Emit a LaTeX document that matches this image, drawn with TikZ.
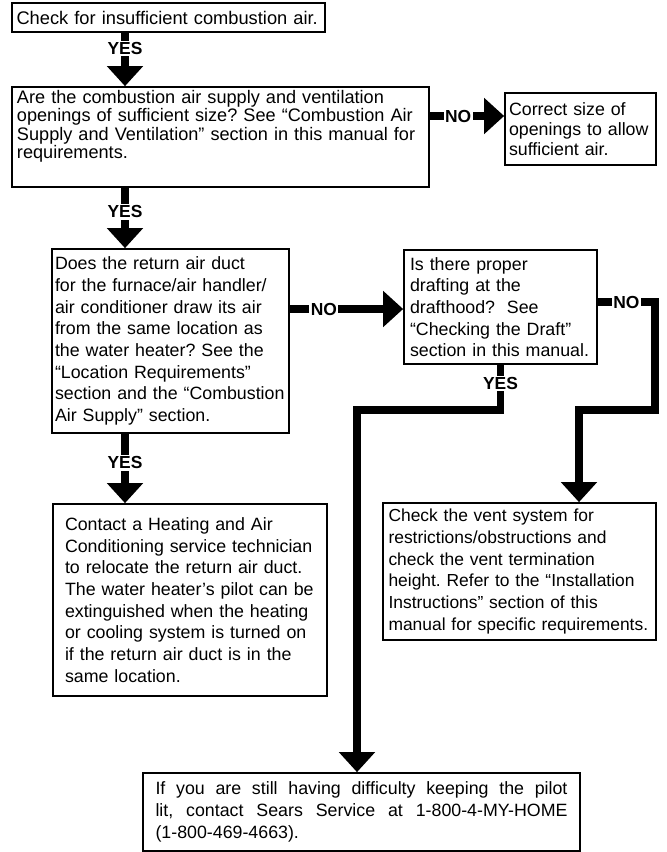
\documentclass[tikz,border=0pt]{standalone}
\usepackage{fontspec}
\setmainfont{Liberation Sans}
\usepackage{tikz}
\usetikzlibrary{arrows.meta,positioning}
\frenchspacing
\tikzset{
  qbox/.style={draw=black,line width=1.2pt,align=left,inner ysep=0pt,inner xsep=0.125cm,
               font=\fontsize{12.66pt}{15.4pt}\selectfont},
  flow/.style={-{Triangle[length=0.5cm,width=0.875cm]},line width=0.1875cm,line join=miter},
  lbl/.style={font=\fontsize{12.4pt}{14pt}\selectfont\bfseries,fill=white,inner sep=1pt},
}

\begin{document}
\begin{tikzpicture}
  \useasboundingbox (0,0) rectangle (16.65,-21.3);
  % columns and rows of the flow lines
  \coordinate (cL) at (3.125,0);
  \coordinate (cM) at (8.925,0);
  \coordinate (cR) at (14.475,0);
  \coordinate (cE) at (16.375,0);
  \coordinate (rA) at (0,-2.9);
  \coordinate (rB) at (0,-7.725);
  \coordinate (rC) at (0,-7.55);
  \coordinate (rD) at (0,-10.25);

  % boxes
  \node[qbox,text width=7.7cm,inner xsep=0.0625cm,minimum height=0.725cm,font=\fontsize{13pt}{15.4pt}\selectfont] (start) at (4.2125,-0.4375) {\hspace*{0.05cm}Check for insufficient combustion air.};
  \node[qbox,text width=10.175cm,minimum height=2.5cm,font=\fontsize{12.9pt}{13pt}\selectfont] (size) at (5.5125,-3.425)
    {Are the combustion air supply and ventilation\\ openings of sufficient size? See “Combustion Air\\ Supply and Ventilation” section in this manual for\\ requirements.\\[5pt]\mbox{}};
  \node[qbox,text width=3.575cm,inner xsep=0.1cm,minimum height=1.8cm,font=\fontsize{12.66pt}{14.2pt}\selectfont] (fix) at (14.5125,-3.225)
    {Correct size of\\ openings to allow\\ sufficient air.};
  \node[qbox,text width=5.775cm,inner xsep=0.075cm,minimum height=4.6cm] (duct) at (4.2625,-8.525)
    {Does the return air duct\\ for the furnace/air handler/\\ air conditioner draw its air\\ from the same location as\\ the water heater? See the\\ “Location Requirements”\\ section and the “Combustion\\ Air Supply” section.};
  \node[qbox,text width=6.25cm,inner xsep=0.3cm,minimum height=4.8cm] (hvac) at (4.75,-15)
    {Contact a Heating and Air\\ Conditioning service technician\\ to relocate the return air duct.\\ The water heater’s pilot can be\\ extinguished when the heating\\ or cooling system is turned on\\ if the return air duct is in the\\ same location.};
  \node[qbox,text width=4.525cm,inner xsep=0.15cm,minimum height=2.85cm] (draft) at (12.5125,-7.675)
    {Is there proper\\ drafting at the\\ drafthood?\ \ See\\ “Checking the Draft”\\ section in this manual.};
  \node[qbox,text width=6.55cm,inner xsep=0.1375cm,minimum height=3.425cm,font=\fontsize{12.4pt}{15.4pt}\selectfont] (vent) at (12.9875,-14.2875)
    {Check the vent system for\\ restrictions/obstructions and\\ check the vent termination\\ height. Refer to the “Installation\\ Instructions” section of this\\ manual for specific requirements.};
  \node[qbox,align=justify,text width=10.3cm,inner xsep=0.3125cm,minimum height=1.95cm,font=\fontsize{12.66pt}{15.6pt}\selectfont] (sears) at (9.0375,-20.3)
    {If you are still having difficulty keeping the pilot\linebreak lit, contact Sears Service at 1-800-4-MY-HOME\linebreak (1-800-469-4663).};

  % flow lines
  \draw[flow] (start.south -| cL) -- node[lbl,pos=0.29]{YES} (size.north -| cL);
  \draw[flow] (size.east |- rA) -- node[lbl,pos=0.38]{NO} (fix.west |- rA);
  \draw[flow] (size.south -| cL) -- node[lbl,pos=0.4]{YES} (duct.north -| cL);
  \draw[flow] (duct.east |- rB) -- node[lbl,pos=0.3]{NO} (draft.west |- rB);
  \draw[flow] (duct.south -| cL) -- node[lbl,pos=0.42]{YES} (hvac.north -| cL);
  \draw[flow] (draft.east |- rC) -- node[lbl]{NO} (cE |- rC) -- (cE |- rD) -- (cR |- rD) -- (vent.north -| cR);
  \draw[flow] (draft.south) -- node[lbl,pos=0.41]{YES} (draft.south |- rD) -- (cM |- rD) -- (sears.north -| cM);
\end{tikzpicture}
\end{document}
